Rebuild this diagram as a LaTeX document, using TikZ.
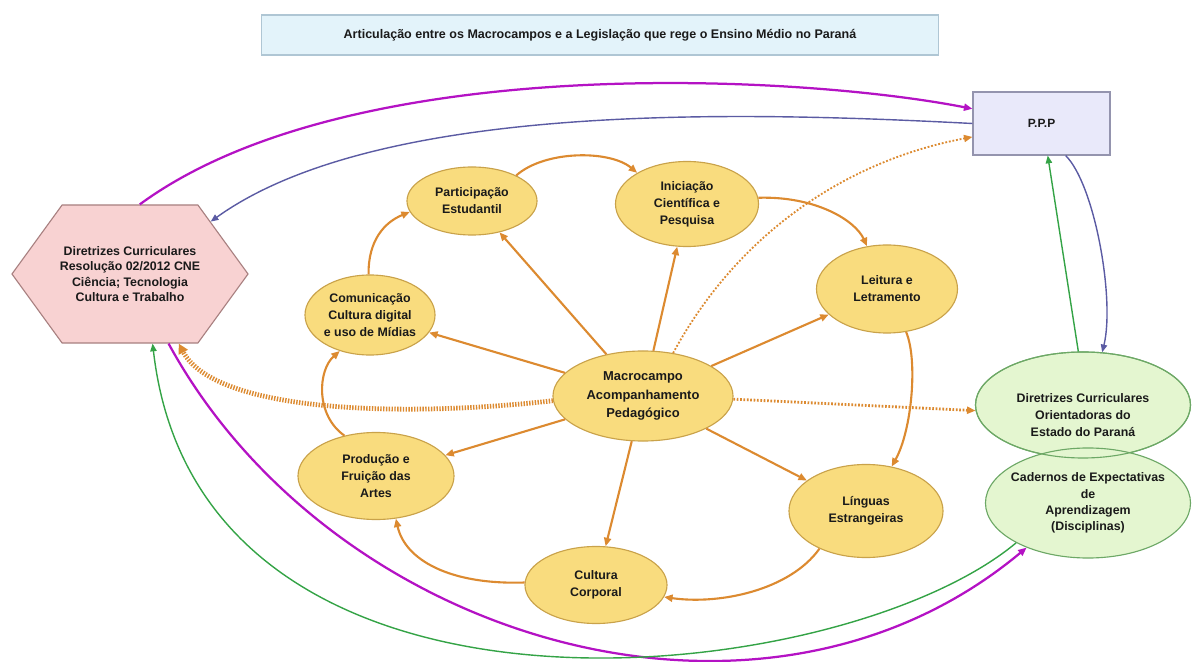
\documentclass[tikz,border=0pt]{standalone}
\usepackage{fontspec}
\setmainfont{Liberation Sans}
\usetikzlibrary{arrows.meta,shapes.geometric,shapes.symbols}
\definecolor{yfill}{HTML}{F9DC7E}
\definecolor{ydraw}{HTML}{C9A24A}
\definecolor{orn}{HTML}{DC8A30}
\definecolor{gfill}{HTML}{E4F6D0}
\definecolor{gdraw}{HTML}{6DA866}
\definecolor{purp}{HTML}{B412C4}
\definecolor{blu}{HTML}{5B5BA3}
\definecolor{grn}{HTML}{34A346}
\definecolor{tfill}{HTML}{E3F3FA}
\definecolor{tdraw}{HTML}{AFC6D4}
\definecolor{pfill}{HTML}{E9E9FA}
\definecolor{pdraw}{HTML}{9494AE}
\definecolor{hfill}{HTML}{F8D2D2}
\definecolor{hdraw}{HTML}{A88080}
\definecolor{txt}{HTML}{1A1A1A}
\begin{document}
\begin{tikzpicture}[x=0.025cm,y=0.025cm,
  lab/.style={font=\fontsize{8.8}{12}\selectfont\bfseries, text=txt, align=center, inner sep=0pt},
  yel/.style={ellipse, draw=ydraw, fill=yfill, line width=0.8pt, inner sep=0pt},
  grnell/.style={ellipse, draw=gdraw, fill=gfill, line width=0.8pt, inner sep=0pt},
  oarr/.style={draw=orn, line width=1.5pt, -{Triangle[length=6pt,width=5pt]}},
  parr/.style={draw=purp, line width=1.6pt, -{Triangle[length=6pt,width=5pt]}},
  barr/.style={draw=blu, line width=1pt, -{Triangle[length=5.5pt,width=4.5pt]}},
  garr/.style={draw=grn, line width=1pt, -{Triangle[length=5.5pt,width=4.5pt]}}
]
\useasboundingbox (0,0) rectangle (1192,-662);

% title
\node[draw=tdraw, fill=tfill, line width=0.8pt, minimum width=16.9cm, minimum height=1cm, inner sep=0pt,
  font=\fontsize{8.9}{10}\selectfont\bfseries, text=txt] (title) at (600,-35)
  {Articulação entre os Macrocampos e a Legislação que rege o Ensino Médio no Paraná};

% PPP
\node[draw=pdraw, fill=pfill, line width=0.8pt, minimum width=3.425cm, minimum height=1.575cm, inner sep=0pt,
  font=\fontsize{8.5}{10}\selectfont\bfseries, text=txt] (ppp) at (1041.5,-123.5) {P.P.P};

% hexagon
\node[signal, signal to=west and east, signal pointer angle=108, draw=hdraw, fill=hfill, line width=0.8pt,
  minimum width=5.9cm, minimum height=3.45cm, inner sep=0pt,
  label={[lab, font=\fontsize{8.8}{11}\selectfont\bfseries]center:{Diretrizes Curriculares\\Resolução 02/2012 CNE\\Ciência; Tecnologia\\Cultura e Trabalho}}] (hex) at (130,-274) {};

% yellow ellipses
\node[yel, minimum width=3.25cm, minimum height=1.7cm, label={[lab]center:{Participação\\Estudantil}}] (part) at (472,-201) {};
\node[yel, minimum width=3.575cm, minimum height=2.125cm, label={[lab]center:{Iniciação\\Científica e\\Pesquisa}}] (ini) at (687,-204) {};
\node[yel, minimum width=3.525cm, minimum height=2.2cm, label={[lab]center:{Leitura e\\Letramento}}] (leit) at (887,-289) {};
\node[yel, minimum width=3.25cm, minimum height=2.0cm, label={[lab]center:{Comunicação\\Cultura digital\\e uso de Mídias}}] (com) at (370,-315) {};
\node[yel, minimum width=4.5cm, minimum height=2.25cm, label={[lab, font=\fontsize{9.2}{13}\selectfont\bfseries]center:{Macrocampo\\Acompanhamento\\Pedagógico}}] (macro) at (643,-396) {};
\node[yel, minimum width=3.9cm, minimum height=2.175cm, label={[lab]center:{Produção e\\Fruição das\\Artes}}] (prod) at (376,-476) {};
\node[yel, minimum width=3.85cm, minimum height=2.325cm, label={[lab]center:{Línguas\\Estrangeiras}}] (ling) at (866,-511) {};
\node[yel, minimum width=3.55cm, minimum height=1.925cm, label={[lab]center:{Cultura\\Corporal}}] (cult) at (596,-585) {};

% green ellipses
\node[grnell, minimum width=5.375cm, minimum height=2.65cm, label={[lab, yshift=-0.25cm]center:{Diretrizes Curriculares\\Orientadoras do\\Estado do Paraná}}] (dir) at (1083,-405) {};
\node[grnell, minimum width=5.125cm, minimum height=2.75cm, label={[lab, font=\fontsize{8.8}{11.6}\selectfont\bfseries]center:{Cadernos de Expectativas\\de\\Aprendizagem\\(Disciplinas)}}] (cad) at (1088,-503) {};
\draw[gdraw, line width=0.8pt] (1083,-405) ellipse [x radius=107.5, y radius=53];

% orange cycle
\draw[oarr] (part.30) .. controls (545,-150) and (610,-150) .. (ini.148);
\draw[oarr] (ini.5) .. controls (815,-196) and (855,-220) .. (leit.115);
\draw[oarr] (leit.-66) .. controls (918,-360) and (912,-430) .. (ling.60);
\draw[oarr] (ling.219) .. controls (790,-590) and (720,-605) .. (cult.-10);
\draw[oarr] (cult.178) .. controls (450,-585) and (405,-560) .. (prod.-65);
\draw[oarr] (prod.128) .. controls (315,-415) and (318,-370) .. (com.230);
\draw[oarr] (com.92) .. controls (368,-240) and (385,-222) .. (part.190);

% radial arrows
\draw[oarr] (macro) -- (part);
\draw[oarr] (macro) -- (ini);
\draw[oarr] (macro) -- (leit);
\draw[oarr] (macro) -- (com);
\draw[oarr] (macro) -- (prod);
\draw[oarr] (macro) -- (cult);
\draw[oarr] (macro) -- (ling);

% dotted orange
\draw[orn, line width=1.3pt, dash pattern=on 1.3pt off 1.3pt, -{Triangle[length=6pt,width=5pt]}]
  (macro.55) .. controls (740,-230) and (850,-160) .. (ppp.191);
\draw[orn, line width=2pt, dash pattern=on 1.2pt off 1.2pt, -{Triangle[length=6pt,width=5pt]}]
  (macro.-2) -- (dir.183);
\draw[orn, line width=3.4pt, dash pattern=on 1pt off 1pt, -{Triangle[length=7pt,width=7pt]}]
  (macro.183) .. controls (400,-418) and (215,-412) .. (hex.-55);

% purple, blue, green
\draw[parr] (hex.82) .. controls (350,-50) and (800,-75) .. (ppp.168);
\draw[barr] (ppp.180) .. controls (750,-112) and (380,-100) .. (hex.33);
\draw[barr] (ppp.-53) .. controls (1095,-185) and (1115,-300) .. (dir.70);
\draw[garr] (dir.95) -- (ppp.-79);
\draw[parr] (hex.-61) .. controls (330,-640) and (760,-770) .. (cad.216);
\draw[garr] (cad.209) .. controls (840,-690) and (200,-760) .. (hex.-72);
\end{tikzpicture}
\end{document}
